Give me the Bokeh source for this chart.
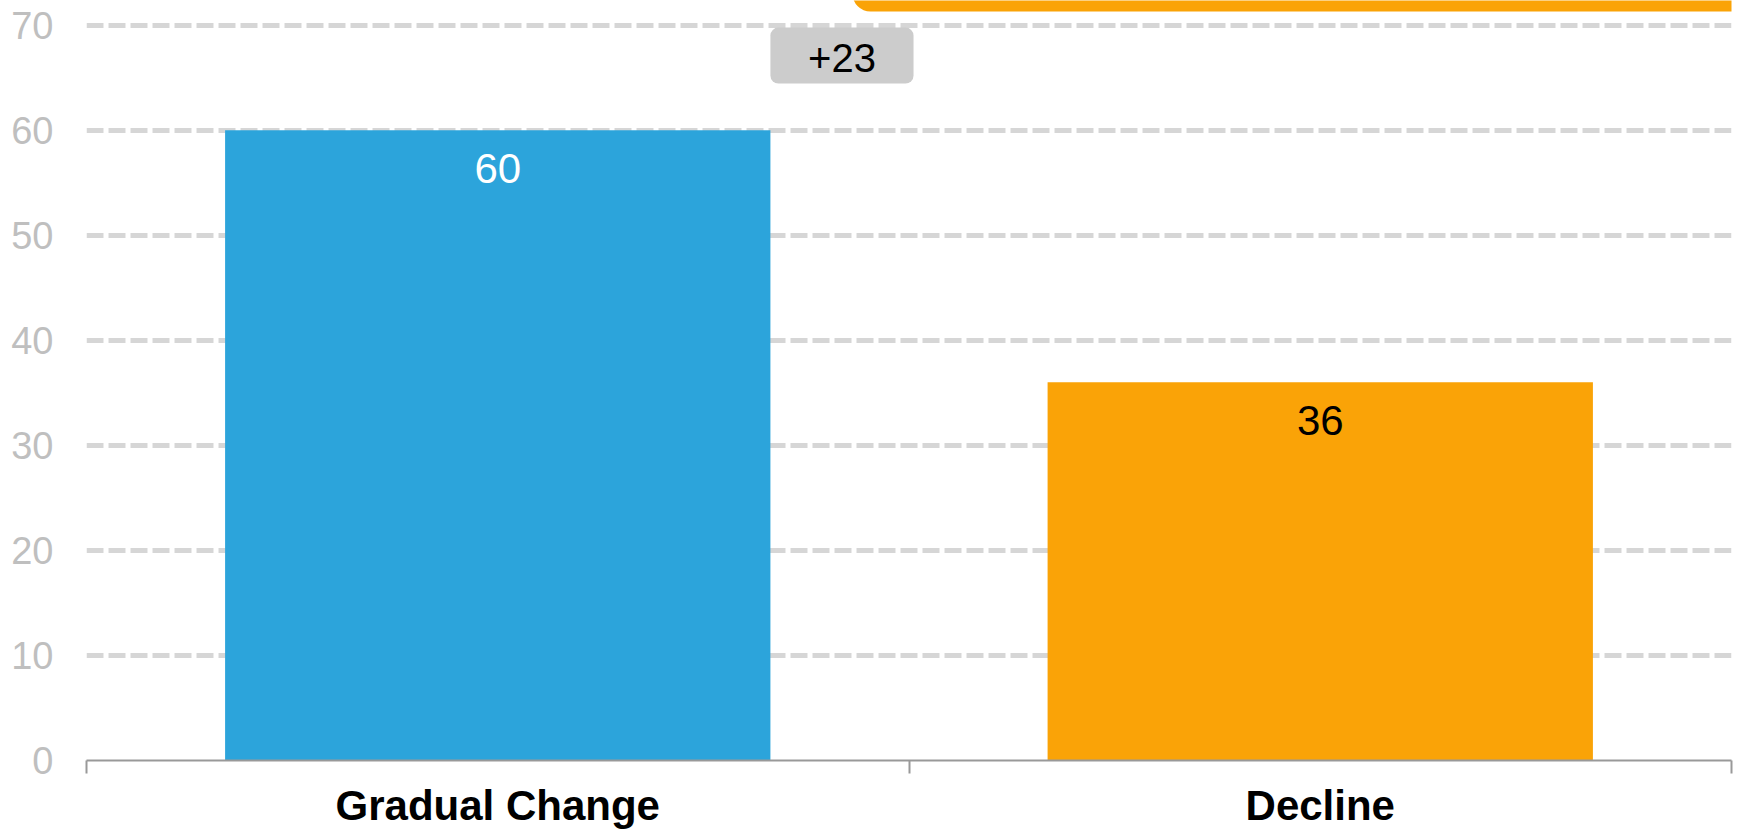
from bokeh.plotting import figure
from bokeh.models import (Range1d, FixedTicker, BoxAnnotation, Label, ColumnDataSource)
from bokeh.core.properties import value
from bokeh.embed import file_html
from bokeh.resources import INLINE

# ---- data ----
categories = ["Gradual Change", "Decline"]
values = [60, 36]
y_ticks = [0, 10, 20, 30, 40, 50, 60, 70]
diff_text = "+23"

# ---- styles ----
bar_colors = ["#2ca4db", "#faa307"]
label_colors = ["#ffffff", "#000000"]
FONT = "Liberation Sans"
BAR_WIDTH = 0.663
Y_END = 72.34
DIFF_W = 0.174
DIFF_H = 5.33
DIFF_DY = 7.1

n = len(categories)
slot_centers = [i + 0.5 for i in range(n)]   # one slot per category

p = figure(x_range=Range1d(0, n), y_range=Range1d(0, Y_END),
           width=1737, height=831, output_backend="svg", toolbar_location=None,
           x_axis_location="below", y_axis_location="left",
           min_border_left=86, min_border_right=6, min_border_top=0, min_border_bottom=71)
p.outline_line_color = None
p.background_fill_color = "white"
p.border_fill_color = "white"

# y axis
yax = p.yaxis[0]
yax.ticker = FixedTicker(ticks=y_ticks)
yax.axis_line_color = None
yax.major_tick_line_color = None
yax.minor_tick_line_color = None
yax.major_tick_out = 0
yax.major_tick_in = 0
yax.minor_tick_out = 0
yax.minor_tick_in = 0
yax.major_label_standoff = 33
yax.major_label_text_font = FONT
yax.major_label_text_font_size = "38px"
yax.major_label_text_color = "#bfbfbf"

p.xgrid.visible = False
p.ygrid.grid_line_color = "#d6d6d6"
p.ygrid.grid_line_width = 5
p.ygrid.grid_line_dash = "17 5"

# x axis: category labels at slot centres, tick marks at slot boundaries
xax = p.xaxis[0]
xax.ticker = FixedTicker(ticks=slot_centers, minor_ticks=list(range(n + 1)))
xax.major_label_overrides = {c: name for c, name in zip(slot_centers, categories)}
xax.axis_line_color = "#999999"
xax.axis_line_width = 2
xax.major_tick_line_color = None
xax.major_tick_out = 0
xax.major_tick_in = 0
xax.minor_tick_line_color = "#999999"
xax.minor_tick_line_width = 2
xax.minor_tick_out = 13
xax.minor_tick_in = 0
xax.major_label_standoff = 8
xax.major_label_text_font = FONT
xax.major_label_text_font_style = "bold"
xax.major_label_text_font_size = "42px"
xax.major_label_text_color = "#000000"

# bars and value labels
src = ColumnDataSource(dict(x=slot_centers, val=values, color=bar_colors,
                            lc=label_colors, txt=[str(v) for v in values]))
p.vbar(x="x", top="val", width=BAR_WIDTH, fill_color="color", line_color=None, source=src)
p.text(x="x", y="val", text="txt", text_color="lc", text_font=value(FONT),
       text_font_size="42px", text_align="center", text_baseline="middle",
       y_offset=38, source=src)

# orange header box (only its lower edge is visible at the top)
p.add_layout(BoxAnnotation(left=0.9313, right=2.1, bottom=71.29, top=Y_END + 4,
                           fill_color="#faa307", fill_alpha=1, line_color=None,
                           border_radius=18))

# difference badge
d_left = slot_centers[0] + BAR_WIDTH / 2
d_cy = values[0] + DIFF_DY
p.add_layout(BoxAnnotation(left=d_left, right=d_left + DIFF_W,
                           bottom=d_cy - DIFF_H / 2, top=d_cy + DIFF_H / 2,
                           fill_color="#cccccc", fill_alpha=1,
                           line_color=None, border_radius=8))
p.add_layout(Label(x=d_left + DIFF_W / 2, y=d_cy - 0.24,
                   text=diff_text, text_align="center", text_baseline="middle",
                   text_font=FONT, text_font_size="40px", text_color="#000000"))

open("out.html", "w").write(file_html(p, INLINE))
